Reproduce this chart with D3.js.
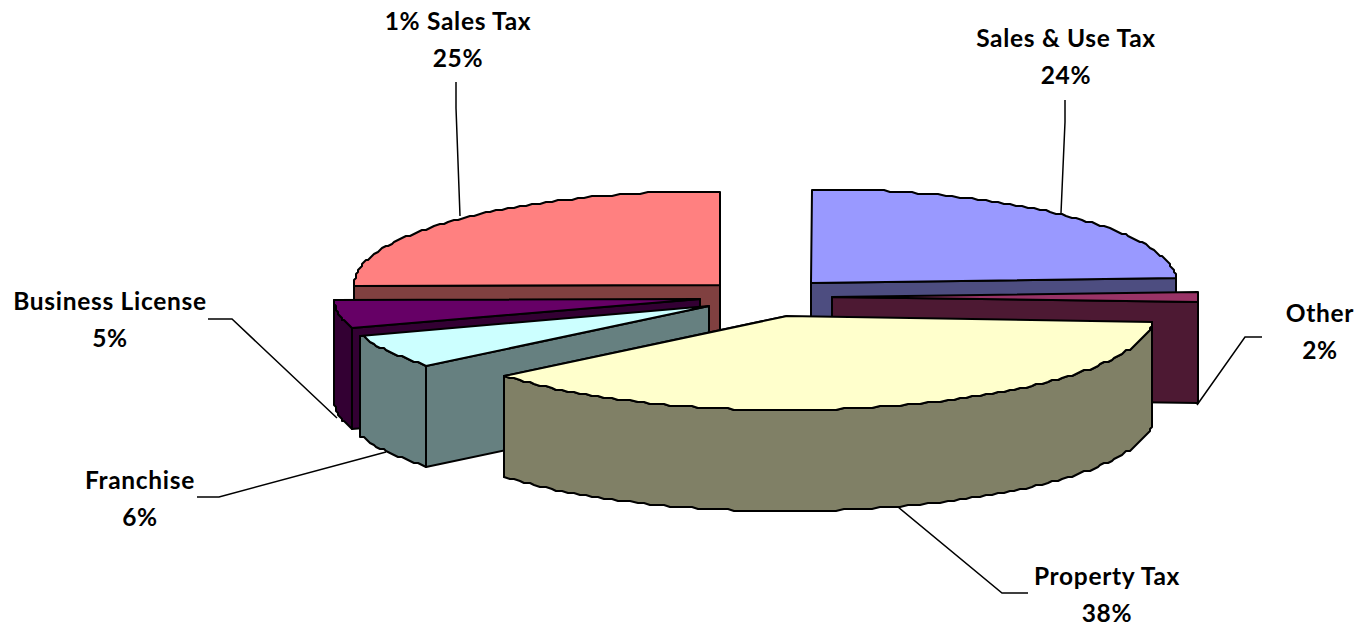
<!DOCTYPE html>
<html>
<head>
<meta charset="utf-8">
<script src="https://cdn.jsdelivr.net/npm/d3@7"></script>
<style>
  body { margin: 0; background: #fff; }
  text { font-family: Lato, "Open Sans", sans-serif; font-weight: 700; font-size: 24.5px; letter-spacing: 0.7px; fill: #000; }
</style>
</head>
<body>
<script>
// clockwise from 12 o'clock, same order as the source chart
const categories = ['Sales & Use Tax', 'Other', 'Property Tax', 'Franchise', 'Business License', '1% Sales Tax'];
const values = [24, 2, 38, 6, 5, 25];
const topColors = ['#9999ff', '#993366', '#ffffcc', '#ccffff', '#660066', '#ff8080'];
const sideColors = ['#4d4d80', '#4d1933', '#808066', '#668080', '#330033', '#804040'];

const width = 1361, height = 630;
const rx = 366, ry = 94, thickness = 101;

// exploded apex of each slice on the page
const apex = [[811, 283], [832, 297], [787, 316], [709, 306], [700, 299], [720, 285]];
// back to front
const drawOrder = [5, 0, 4, 1, 3, 2];
// label centre, and leader line from label to slice
const labelAt = [[1066, 47], [1320, 322], [1107, 585], [140, 489], [110, 310], [458, 30]];
const leaders = [
  [[1065, 100], [1065, 122], [1061, 213]],
  [[1262, 337], [1245, 337], [1197, 405]],
  [[1028, 593], [1002, 593], [898, 507]],
  [[197, 497], [219, 497], [386, 452]],
  [[208, 319], [232, 319], [337, 418]],
  [[456, 82], [456, 108], [460, 216]]
];

const svg = d3.select('body').append('svg')
  .attr('width', width).attr('height', height)
  .style('display', 'block');

const pie = d3.pie().sort(null)(values);

const px = d3.scaleLinear().domain([-1, 1]).range([-rx, rx]);
const py = d3.scaleLinear().domain([-1, 1]).range([-ry, ry]);

// a point on the slice rim, snapped to a 2px grid so curves get the stepped look of the original
const rim = (i, a) => [
  Math.round((apex[i][0] + px(Math.sin(a))) / 2) * 2,
  Math.round((apex[i][1] + py(-Math.cos(a))) / 2) * 2
];
const arcPoints = (i, a0, a1) => {
  const n = Math.max(2, Math.ceil((a1 - a0) / 0.02));
  return d3.range(n + 1).map(k => rim(i, a0 + (a1 - a0) * k / n));
};
const drop = p => [p[0], p[1] + thickness];
const line = d3.line();

const HALF = Math.PI, QUARTER = Math.PI / 2;

const slices = svg.selectAll('g.slice')
  .data(drawOrder)
  .join('g').attr('class', 'slice')
  .attr('stroke', '#000')
  .attr('stroke-width', 2)
  .attr('stroke-linejoin', 'round');

slices.each(function(i) {
  const g = d3.select(this);
  const a0 = pie[i].startAngle, a1 = pie[i].endAngle;

  // radial wall facing the viewer
  const wallAngle = a1 <= HALF ? a1 : (a0 >= HALF ? a0 : (a1 - QUARTER < HALF ? a1 : null));
  if (wallAngle !== null) {
    const e = rim(i, wallAngle);
    g.append('path')
      .attr('fill', sideColors[i])
      .attr('d', line([apex[i], e, drop(e), drop(apex[i])]) + 'Z');
  }

  // outer wall, only the front half of the rim shows
  const o0 = Math.max(a0, QUARTER), o1 = Math.min(a1, 3 * QUARTER);
  if (o1 > o0) {
    const edge = arcPoints(i, o0, o1);
    g.append('path')
      .attr('fill', sideColors[i])
      .attr('d', line(edge.concat(edge.slice().reverse().map(drop))) + 'Z');
    const e = rim(i, o0);
    g.append('path').attr('fill', 'none').attr('d', line([e, drop(e)]));
  }

  g.append('path')
    .attr('fill', topColors[i])
    .attr('d', line([apex[i]].concat(arcPoints(i, a0, a1))) + 'Z');
});

svg.selectAll('path.leader')
  .data(leaders)
  .join('path').attr('class', 'leader')
  .attr('fill', 'none')
  .attr('stroke', '#000')
  .attr('stroke-width', 1.5)
  .attr('d', d => line(d));

const labels = svg.selectAll('text.label')
  .data(categories)
  .join('text').attr('class', 'label')
  .attr('text-anchor', 'middle');

labels.append('tspan')
  .attr('x', (d, i) => labelAt[i][0])
  .attr('y', (d, i) => labelAt[i][1])
  .text(d => d);

labels.append('tspan')
  .attr('x', (d, i) => labelAt[i][0])
  .attr('y', (d, i) => labelAt[i][1] + 37)
  .text((d, i) => values[i] + '%');
</script>
</body>
</html>
